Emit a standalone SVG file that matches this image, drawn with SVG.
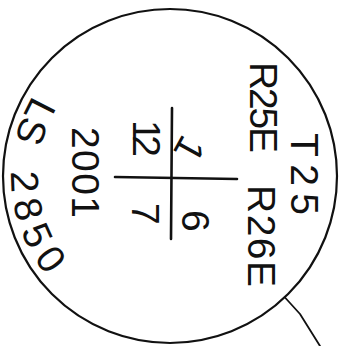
<svg xmlns="http://www.w3.org/2000/svg" width="344" height="346" viewBox="0 0 344 346">
<style>
.ink{fill:none;stroke:#111;stroke-linecap:round;stroke-linejoin:round}
.hw{font-family:"Liberation Sans","DejaVu Sans",sans-serif;fill:#111;font-size:39px}
</style>
<defs>
<path id="arcL" d="M39.6,85.4 A158,158 0 0,0 67.4,297"/>
</defs>
<rect width="344" height="346" fill="#fff"/>
<g id="tag">
<circle cx="170" cy="176" r="167" class="ink" stroke-width="2.2"/>
</g>
<g id="connectors">
<path d="M285,297.5 L300,314 L320,346" class="ink" stroke-width="1.8"/>
</g>
<g id="cross">
<line x1="172" y1="108" x2="171" y2="239" class="ink" stroke-width="2.6"/>
<line x1="115" y1="177" x2="237" y2="179" class="ink" stroke-width="2.6"/>
</g>
<g id="labels">
<text class="hw" transform="translate(291,133) rotate(90)" textLength="82" lengthAdjust="spacing">T25</text>
<text class="hw" transform="translate(250,62) rotate(90)" textLength="91" lengthAdjust="spacing">R25E</text>
<text class="hw" transform="translate(248,185) rotate(90)" textLength="102" lengthAdjust="spacing">R26E</text>
<text class="hw" transform="translate(183,133) rotate(119)" font-size="32">1</text>
<text class="hw" transform="translate(133,120) rotate(90)" textLength="37" lengthAdjust="spacing">12</text>
<text class="hw" transform="translate(182,210) rotate(90)">6</text>
<text class="hw" transform="translate(132,203) rotate(90)">7</text>
<text class="hw" transform="translate(72,127) rotate(90)" textLength="91" lengthAdjust="spacing">2001</text>
<text class="hw"><textPath href="#arcL" startOffset="12">LS</textPath></text>
<text class="hw"><textPath href="#arcL" startOffset="92" textLength="112" lengthAdjust="spacing">2850</textPath></text>
</g>
</svg>
